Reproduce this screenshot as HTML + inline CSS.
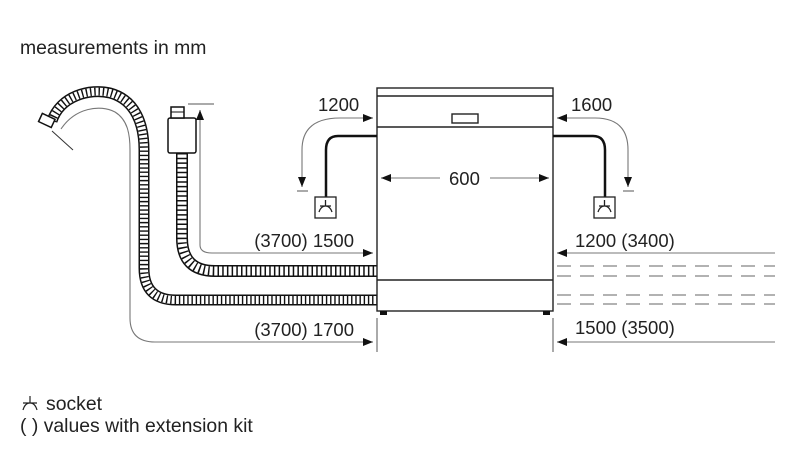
<!DOCTYPE html>
<html><head><meta charset="utf-8"><style>
html,body{margin:0;padding:0;background:#fff}
svg{display:block}
text{font-family:"Liberation Sans",sans-serif;fill:#222}
</style></head><body>
<svg width="800" height="450" viewBox="0 0 800 450">
<defs>
<marker id="a" markerWidth="10" markerHeight="8" refX="10" refY="4" orient="auto" markerUnits="userSpaceOnUse">
<path d="M0,0 L10,4 L0,8 Z" fill="#111"/></marker>
</defs>
<text x="20" y="54" font-size="19.4">measurements in mm</text>

<!-- hoses -->
<g fill="none">
<path d="M52,121 C60,96 90,88 110,93 C136,100 144,125 144,150 L144,268 Q144,300 176,300 L377,300" stroke="#111" stroke-width="11"/>
<path d="M52,121 C60,96 90,88 110,93 C136,100 144,125 144,150 L144,268 Q144,300 176,300 L377,300" stroke="#fff" stroke-width="8"/>
<path d="M52,121 C60,96 90,88 110,93 C136,100 144,125 144,150 L144,268 Q144,300 176,300 L377,300" stroke="#111" stroke-width="8" stroke-dasharray="1.4 2.8"/>
<path d="M182,153 L182,238 Q182,271 215,271 L377,271" stroke="#111" stroke-width="12"/>
<path d="M182,153 L182,238 Q182,271 215,271 L377,271" stroke="#fff" stroke-width="9"/>
<path d="M182,153 L182,238 Q182,271 215,271 L377,271" stroke="#111" stroke-width="9" stroke-dasharray="1.5 3.2"/>
</g>
<!-- drain nozzle -->
<rect x="40" y="116" width="14" height="9" fill="#fff" stroke="#111" stroke-width="1.5" transform="rotate(25 47 120)"/>
<line x1="52" y1="131" x2="73" y2="150" stroke="#333" stroke-width="1"/>
<!-- inlet valve -->
<rect x="168" y="118" width="28" height="35" rx="2" fill="#fff" stroke="#111" stroke-width="1.5"/>
<rect x="171" y="107" width="13" height="11" fill="#fff" stroke="#111" stroke-width="1.5"/>
<line x1="171" y1="112" x2="184" y2="112" stroke="#111" stroke-width="1"/>

<!-- dimension lines -->
<g fill="none" stroke="#777" stroke-width="1.1">
<path d="M61,129 C75,108 100,104 115,112 C128,120 130,135 130,150 L130,318 Q130,342 155,342 L373,342" marker-end="url(#a)"/>
<path d="M200,245 Q200,253 212,253 L373,253" marker-end="url(#a)"/>
<path d="M200,245 L200,110" marker-end="url(#a)"/>
<path d="M340,118 L373,118" marker-end="url(#a)"/>
<path d="M340,118 Q302,118 302,150 L302,187" marker-end="url(#a)"/>
<path d="M595,118 L557,118" marker-end="url(#a)"/>
<path d="M595,118 Q628,118 628,150 L628,187" marker-end="url(#a)"/>
<path d="M775,253 L557,253" marker-end="url(#a)"/>
<path d="M775,342 L557,342" marker-end="url(#a)"/>
<path d="M440,178 L381,178" marker-end="url(#a)"/>
<path d="M490,178 L549,178" marker-end="url(#a)"/>
</g>
<g stroke="#555" stroke-width="1">
<line x1="188" y1="104" x2="214" y2="104"/>
<line x1="297" y1="191" x2="308" y2="191"/>
<line x1="623" y1="191" x2="634" y2="191"/>
<line x1="377" y1="318" x2="377" y2="352"/>
<line x1="553" y1="318" x2="553" y2="352"/>
</g>

<!-- dashed -->
<g stroke="#666" stroke-width="1" stroke-dasharray="14 9">
<line x1="557" y1="266" x2="775" y2="266"/>
<line x1="557" y1="276" x2="775" y2="276"/>
<line x1="557" y1="295" x2="775" y2="295"/>
<line x1="557" y1="304" x2="775" y2="304"/>
</g>

<!-- appliance -->
<g fill="none" stroke="#222" stroke-width="1.4">
<rect x="377" y="88" width="176" height="223"/>
<line x1="377" y1="96" x2="553" y2="96"/>
<line x1="377" y1="127" x2="553" y2="127"/>
<line x1="377" y1="280" x2="553" y2="280"/>
<rect x="452" y="114" width="26" height="9"/>
</g>
<rect x="380" y="311" width="7" height="4" fill="#111"/>
<rect x="543" y="311" width="7" height="4" fill="#111"/>

<!-- cords -->
<g fill="none" stroke="#111" stroke-width="2.5">
<path d="M377,136 L338,136 Q326,136 326,150 L326,198"/>
<path d="M553,136 L593,136 Q605,136 605,150 L605,198"/>
</g>
<!-- sockets -->
<g fill="#fff" stroke="#222" stroke-width="1.3">
<rect x="315" y="197" width="21" height="21"/>
<rect x="594" y="197" width="21" height="21"/>
<path d="M319,212 Q321,206 325.5,206 Q330,206 332,212 M320,206 L331,206 M325.5,206 L325.5,200" fill="none"/>
<path d="M598,212 Q600,206 604.5,206 Q609,206 611,212 M599,206 L610,206 M604.5,206 L604.5,200" fill="none"/>
</g>

<g font-size="18.5">
<text x="318" y="111">1200</text>
<text x="571" y="111">1600</text>
<text x="449" y="185">600</text>
<text x="354" y="247" text-anchor="end">(3700) 1500</text>
<text x="354" y="336" text-anchor="end">(3700) 1700</text>
<text x="575" y="247">1200 (3400)</text>
<text x="575" y="334">1500 (3500)</text>
</g>
<g font-size="19.4">
<path d="M23,410 Q25,403 30,403 Q35,403 37,410 M23,403 L37,403 M30,403 L30,396" fill="none" stroke="#222" stroke-width="1.2"/>
<text x="46" y="410">socket</text>
<text x="20" y="432">( ) values with extension kit</text>
</g>
</svg>
</body></html>
